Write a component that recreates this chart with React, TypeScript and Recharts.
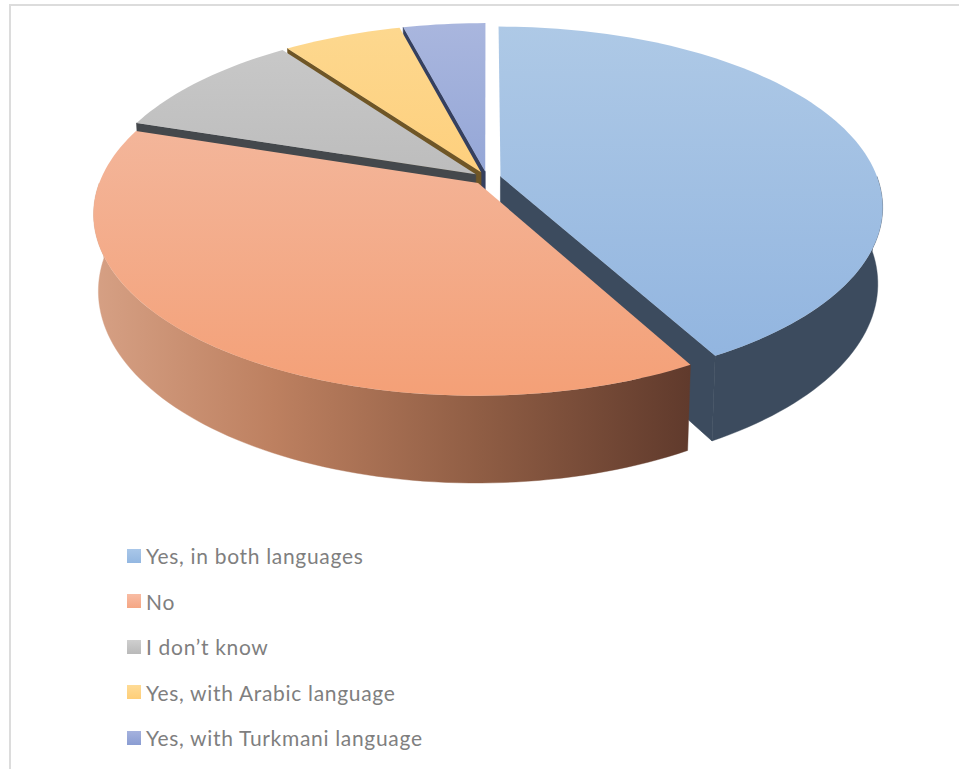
import { Legend, Pie, PieChart } from "recharts";

const categories = [
  "Yes, in both languages",
  "No",
  "I don’t know",
  "Yes, with Arabic language",
  "Yes, with Turkmani language",
];
const shares = [42, 38, 10, 5.9, 4.1];

const topColors = [
  ["#aec9e6", "#8fb3df"],
  ["#f3bea8", "#f4a077"],
  ["#cacaca", "#a9a9a9"],
  ["#fdd88f", "#ffc362"],
  ["#a9b6de", "#7690cc"],
];
const faceColors = ["#3c4b5e", "#603a2c", "#44484c", "#6f5626", "#35405f"];
const legendColors = [
  ["#a9c7e9", "#93b7e1"],
  ["#f8bca4", "#f5a683"],
  ["#cfcfcf", "#b9b9b9"],
  ["#fedb96", "#fece78"],
  ["#a5b2de", "#8a9dd2"],
];

const chartData = categories.map((name, i) => ({ name, value: shares[i] }));
// cut faces paint back to front, so the neighbour on the left ends up on top
const reversedData = [...chartData].reverse();

// Oblique camera for the disc: TILT flattens it, PERSP enlarges the near edge,
// DEPTH and SHRINK place the underside of the extruded slab.
const TILT = 0.465;
const PERSP = 0.167;
const DEPTH = 0.2016;
const SHRINK = 0.012;
const EXPLODE = 0.037;

const rad = (deg: number) => (deg * Math.PI) / 180;

type SectorProps = {
  cx: number;
  cy: number;
  outerRadius: number;
  startAngle: number;
  endAngle: number;
  midAngle: number;
  name: string;
};

function projector(p: SectorProps) {
  const mid = rad(90 - p.midAngle);
  const du = EXPLODE * Math.sin(mid);
  const dv = -EXPLODE * Math.cos(mid);
  return (clock: number, r: number, z: number) => {
    const u = du + r * Math.sin(rad(clock));
    const v = dv - r * Math.cos(rad(clock));
    const w = 1 - PERSP * v + SHRINK * z;
    const x = p.cx + (p.outerRadius * u) / w;
    const y = p.cy + (p.outerRadius * (TILT * v + DEPTH * z)) / w;
    return `${x.toFixed(2)},${y.toFixed(2)}`;
  };
}

// sector limits as clockwise degrees from twelve o'clock, in 0..360
function clockRange(p: SectorProps) {
  let lo = 90 - Math.max(p.startAngle, p.endAngle);
  let hi = 90 - Math.min(p.startAngle, p.endAngle);
  while (lo < 0) {
    lo += 360;
    hi += 360;
  }
  return [lo, hi];
}

function arc(from: number, to: number) {
  const steps = Math.max(2, Math.ceil(Math.abs(to - from) / 1.5));
  return Array.from({ length: steps + 1 }, (_, i) => from + ((to - from) * i) / steps);
}

const toPath = (pts: string[]) => `M${pts.join("L")}Z`;

function TopFace(props: any) {
  const p = props as SectorProps;
  const at = projector(p);
  const [start, end] = clockRange(p);
  const pts = [at(0, 0, 0), ...arc(start, end).map((c) => at(c, 1, 0))];
  return <path d={toPath(pts)} fill={`url(#top${categories.indexOf(p.name)})`} />;
}

function CutFaces(props: any) {
  const p = props as SectorProps;
  const at = projector(p);
  const [start, end] = clockRange(p);
  const face = faceColors[categories.indexOf(p.name)];
  const cut = (c: number) => toPath([at(0, 0, 0), at(c, 1, 0), at(c, 1, 1), at(0, 0, 1)]);
  return (
    <g fill={face} stroke={face} strokeWidth={0.6}>
      {start > 180 && <path d={cut(start)} />}
      {end < 180 && <path d={cut(end)} />}
    </g>
  );
}

function RimWall(props: any) {
  const p = props as SectorProps;
  const at = projector(p);
  const idx = categories.indexOf(p.name);
  const [start, end] = clockRange(p);
  // only the near half of the rim can be seen
  const from = Math.max(start, 90);
  const to = Math.min(end, 270);
  if (to <= from) return <g />;
  const pts = [...arc(from, to).map((c) => at(c, 1, 0)), ...arc(to, from).map((c) => at(c, 1, 1))];
  const paint = idx === 1 ? "url(#rimNo)" : faceColors[idx];
  return <path d={toPath(pts)} fill={paint} stroke={paint} strokeWidth={0.4} />;
}

function LegendList() {
  return (
    <div style={{ display: "flex", flexDirection: "column" }}>
      {categories.map((name, i) => (
        <div key={name} style={{ display: "flex", alignItems: "center", height: 45.5 }}>
          <span
            style={{
              width: 14,
              height: 14,
              marginRight: 5,
              background: `linear-gradient(${legendColors[i][0]}, ${legendColors[i][1]})`,
            }}
          />
          <span style={{ color: "#7f7f7f", fontSize: 21, letterSpacing: 0.68 }}>{name}</span>
        </div>
      ))}
    </div>
  );
}

const pieGeometry = { dataKey: "value", nameKey: "name", cx: 487, cy: 178, outerRadius: 377, stroke: "none" };

export default function App() {
  return (
    <div
      style={{
        position: "fixed",
        left: 0,
        top: 0,
        width: 959,
        height: 769,
        background: "#fff",
        fontFamily: "Lato, sans-serif",
      }}
    >
      <div style={{ position: "absolute", left: 9, top: 4, width: 950, height: 2, background: "#dcdcdc" }} />
      <div style={{ position: "absolute", left: 9, top: 4, width: 2, height: 765, background: "#dcdcdc" }} />
      <PieChart width={959} height={769} margin={{ top: 0, right: 0, bottom: 0, left: 0 }}>
        <defs>
          {topColors.map(([from, to], i) => (
            <linearGradient key={i} id={`top${i}`} gradientUnits="userSpaceOnUse" x1="0" y1="25" x2="0" y2="395">
              <stop offset="0" stopColor={from} />
              <stop offset="1" stopColor={to} />
            </linearGradient>
          ))}
          <linearGradient id="rimNo" gradientUnits="userSpaceOnUse" x1="95" y1="0" x2="690" y2="0">
            <stop offset="0" stopColor="#d6a084" />
            <stop offset="0.3" stopColor="#bd8060" />
            <stop offset="0.65" stopColor="#8f5d44" />
            <stop offset="1" stopColor="#603a2c" />
          </linearGradient>
        </defs>
        <Pie
          {...pieGeometry}
          data={reversedData}
          startAngle={90}
          endAngle={450}
          legendType="none"
          isAnimationActive={false}
          shape={CutFaces}
        />
        <Pie
          {...pieGeometry}
          data={chartData}
          startAngle={90}
          endAngle={-270}
          legendType="none"
          isAnimationActive={false}
          shape={RimWall}
        />
        <Pie
          {...pieGeometry}
          data={chartData}
          startAngle={90}
          endAngle={-270}
          isAnimationActive={false}
          shape={TopFace}
        />
        <Legend
          layout="horizontal"
          align="left"
          verticalAlign="bottom"
          wrapperStyle={{ left: 127, top: 533, bottom: "auto", width: 400 }}
          content={LegendList}
        />
      </PieChart>
    </div>
  );
}
